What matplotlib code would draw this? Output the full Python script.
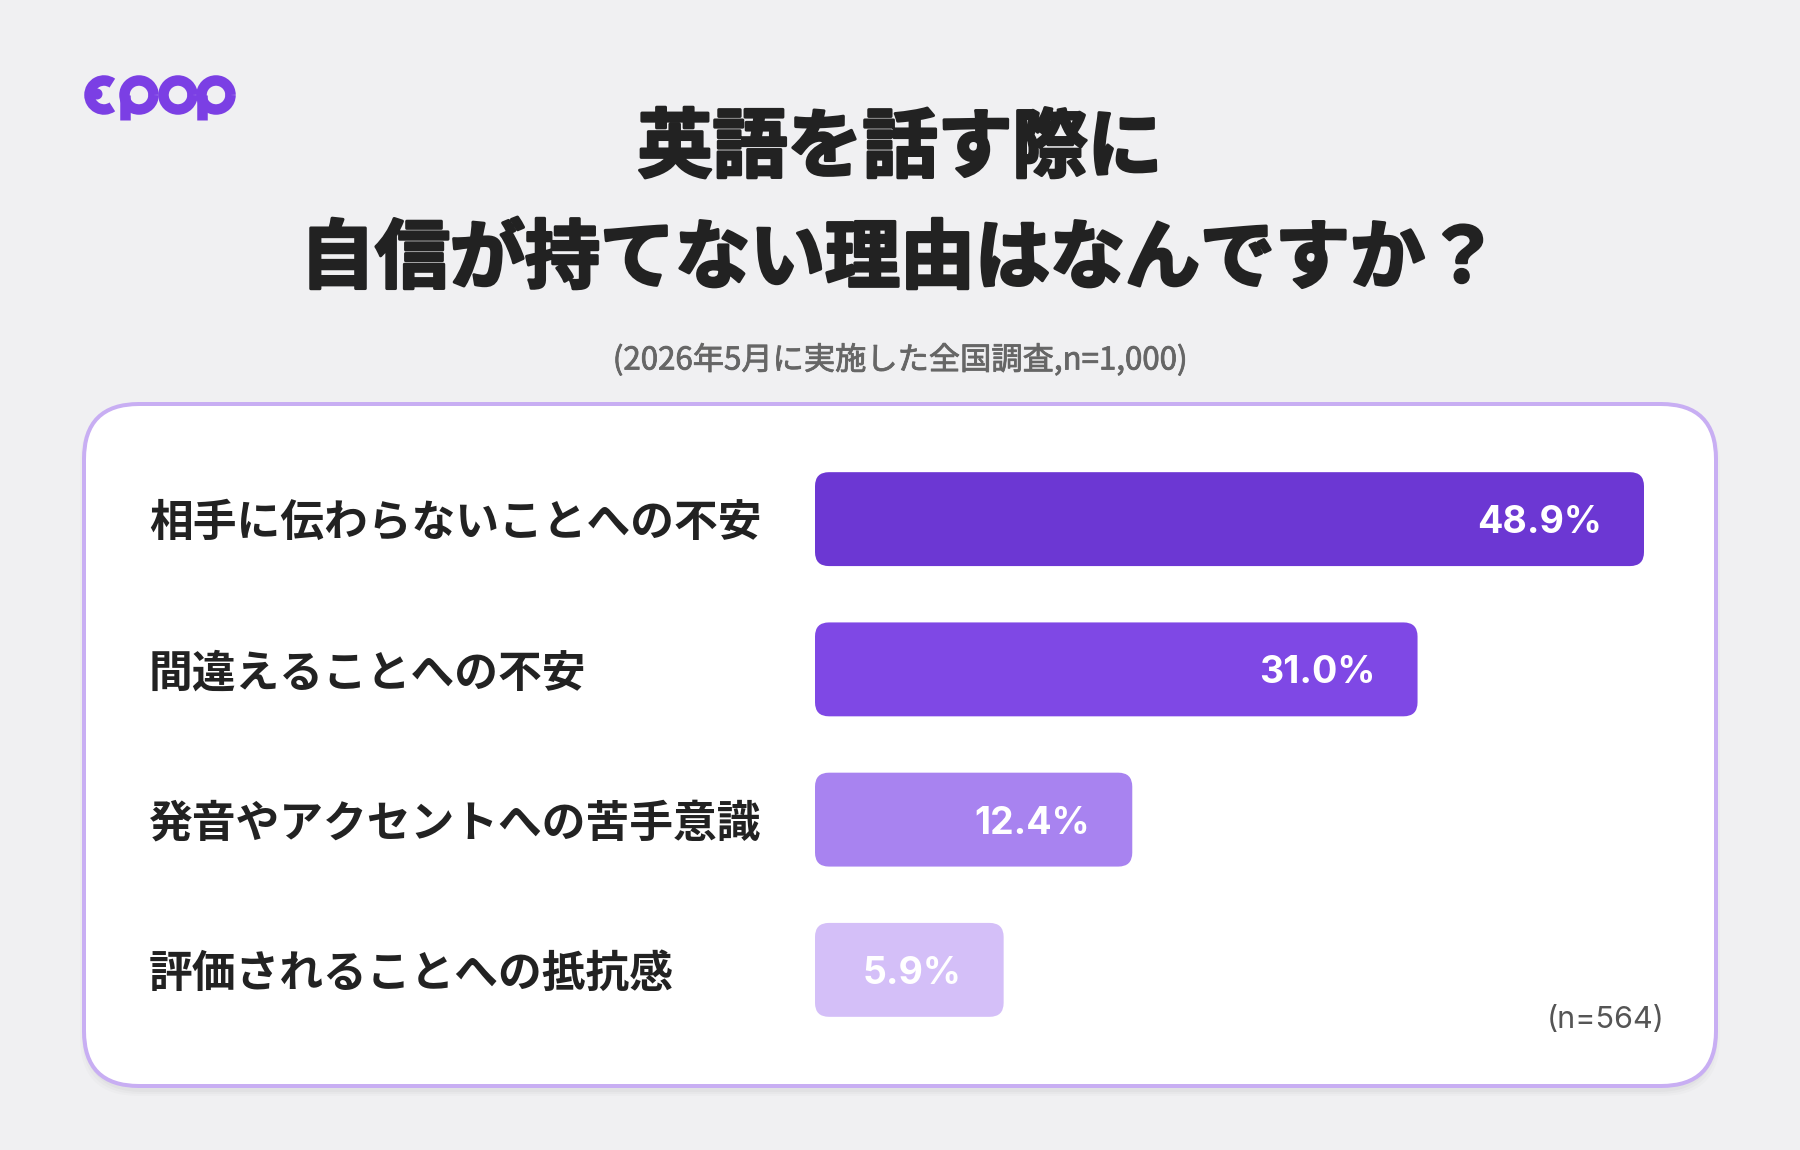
import numpy as np
import matplotlib
matplotlib.use("Agg")
import matplotlib.pyplot as plt
import matplotlib.patheffects as pe
from matplotlib.patches import FancyBboxPatch, Arc, Circle
from matplotlib.transforms import blended_transform_factory

# data
categories = [
    "相手に伝わらないことへの不安",
    "間違えることへの不安",
    "発音やアクセントへの苦手意識",
    "評価されることへの抵抗感",
]
values = [48.9, 31.0, 12.4, 5.9]
bar_colors = ["#6C37D3", "#7F48E5", "#A883F0", "#D4BFF8"]
title_lines = ["英語を話す際に", "自信が持てない理由はなんですか？"]
subtitle = "(2026年5月に実施した全国調査,n=1,000)"
sample_note = "(n=564)"

JP = ["Noto Sans CJK JP", "DejaVu Sans"]
NUM = ["Inter", "Noto Sans CJK JP", "DejaVu Sans"]
plt.rcParams["font.family"] = JP

W, H = 1800, 1150
fig = plt.figure(figsize=(W / 100, H / 100), dpi=100)
fig.patch.set_facecolor("#F0F0F2")

# background axes in pixel units (y down)
bg = fig.add_axes([0, 0, 1, 1])
bg.set_xlim(0, W)
bg.set_ylim(H, 0)
bg.axis("off")

# logo
purple = "#7B3FE4"
lw_px = 10.5 * 0.72
bg.add_patch(Arc((104, 95), 29, 29, theta1=55, theta2=305, lw=lw_px, color=purple, capstyle="butt"))
bg.add_patch(Circle((97, 94), 4.8, color=purple))
for cx in (139, 216):
    bg.add_patch(Arc((cx, 95), 29, 29, lw=lw_px, color=purple))
    bg.plot([cx - 14.5, cx - 14.5], [95, 120], color=purple, lw=lw_px, solid_capstyle="butt")
bg.add_patch(Arc((178, 95), 29, 29, lw=lw_px, color=purple))

# title + subtitle
heavy = [pe.withStroke(linewidth=2.2, foreground="#222222")]
bg.text(900, 149, title_lines[0], ha="center", va="center", fontsize=54,
        fontweight="bold", color="#222222", path_effects=heavy)
bg.text(900, 260, title_lines[1], ha="center", va="center", fontsize=54,
        fontweight="bold", color="#222222", path_effects=heavy)
bg.text(900, 360, subtitle, ha="center", va="center", fontsize=22.5,
        color="#666666", path_effects=[pe.withStroke(linewidth=0.6, foreground="#666666")])

# card with soft shadow
for k, a in enumerate([0.025, 0.02, 0.015]):
    bg.add_patch(FancyBboxPatch((84 - 2 * k, 410 - 2 * k), 1632 + 4 * k, 682 + 4 * k,
                                boxstyle="round,pad=0,rounding_size=58",
                                fc="black", ec="none", alpha=a, zorder=1))
bg.add_patch(FancyBboxPatch((84, 404), 1632, 682, boxstyle="round,pad=0,rounding_size=55",
                            fc="white", ec="#C8AEF3", lw=4 * 0.72, zorder=2))

# bar axes
ax = fig.add_axes([815 / W, (H - 1045) / H, (1644 - 815) / W, 601 / H])
ax.set_xscale("function", functions=(lambda x: np.sign(x) * np.abs(x) ** 0.7,
                                     lambda y: np.sign(y) * np.abs(y) ** (1 / 0.7)))
ax.set_xlim(0, max(values))
ax.set_ylim(len(values) - 0.5, -0.5)
ax.axis("off")
ax.patch.set_alpha(0)

bar_h = 0.625
to_bg = bg.transData.inverted()
for i, (v, c) in enumerate(zip(values, bar_colors)):
    x0, y0 = to_bg.transform(ax.transData.transform((0, i - bar_h / 2)))
    x1, y1 = to_bg.transform(ax.transData.transform((v, i + bar_h / 2)))
    bg.add_patch(FancyBboxPatch((x0, min(y0, y1)), x1 - x0, abs(y1 - y0),
                                boxstyle="round,pad=0,rounding_size=14",
                                fc=c, ec="none", zorder=3))
    ax.annotate(f"{v:.1f}%", xy=(v, i), xytext=(-42, -4), textcoords="offset pixels",
                ha="right", va="center", color="white", fontsize=27,
                fontweight="bold", family=NUM)

lab_tr = blended_transform_factory(bg.transData, ax.transData)
for i, cat in enumerate(categories):
    bg.annotate(cat, xy=(149, i), xycoords=lab_tr, xytext=(0, -4), textcoords="offset pixels",
                ha="left", va="center", fontsize=31.5,
                fontweight="bold", color="#222222", zorder=4)

bg.text(1665, 1020, sample_note, ha="right", va="center", fontsize=22,
        color="#555555", family=NUM, zorder=4)

fig.savefig("out.png", dpi=100, facecolor=fig.get_facecolor())
